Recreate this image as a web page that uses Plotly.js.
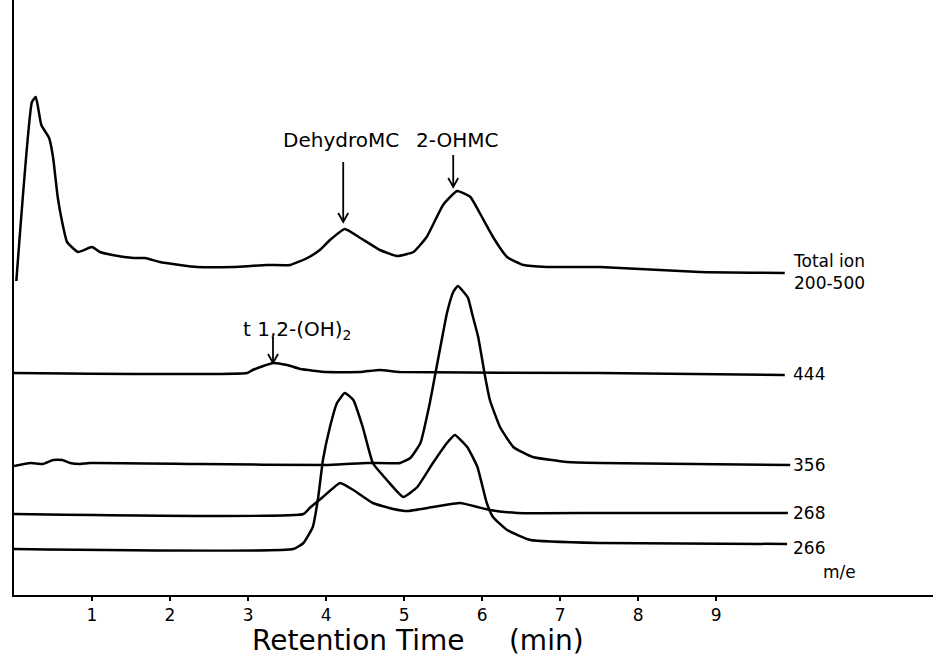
<!DOCTYPE html>
<html>
<head>
<meta charset="utf-8">
<script src="https://cdn.plot.ly/plotly-3.0.1.min.js"></script>
<style>html,body{margin:0;padding:0;background:#fff;}#chart{width:933px;height:660px;}</style>
</head>
<body>
<div id="chart"></div>
<script>
// Retention time (min) and detector response (arbitrary units, traces stacked as in the figure)
const totalIonTime = [0.03,0.23,0.28,0.35,0.45,0.50,0.56,0.62,0.68,0.82,1.00,1.10,1.26,1.53,1.68,1.87,2.35,2.81,3.24,3.54,3.76,3.92,4.05,4.24,4.44,4.69,4.91,5.12,5.29,5.50,5.68,5.85,5.97,6.14,6.32,6.53,6.83,7.51,8.79,9.88];
const totalIonSignal = [314,493,498,470,457,438,398,372,353,343,348,343,340,337,337,333,328,328,330,330,337,345,355,366,357,345,339,343,358,390,404,398,382,358,338,330,328,328,323,322];

const mz444Time = [0,2.99,3.06,3.32,3.50,3.67,4.01,4.44,4.69,4.95,7.51,9.88];
const mz444Signal = [222,222,225,232,230,226,223,223,225,223,222,220];

const mz356Time = [0,0.21,0.37,0.50,0.62,0.72,0.85,0.97,2.38,4.01,4.53,4.95,5.08,5.21,5.33,5.41,5.49,5.55,5.63,5.69,5.82,5.87,5.95,6.04,6.10,6.23,6.40,6.65,7.09,7.51,9.95];
const mz356Signal = [129,132,131,135,135,132,131,132,131,130,132,132,137,152,192,225,258,282,303,309,297,282,258,218,195,168,148,138,133,132,130];

const mz268Time = [0,3.71,3.79,3.96,4.18,4.35,4.60,4.86,5.04,5.37,5.72,5.94,6.10,6.45,7.51,9.92];
const mz268Signal = [81,81,87,98,112,105,92,86,84,88,92,88,85,82,82,82];

const mz266Time = [0,3.58,3.71,3.83,3.90,3.96,4.05,4.14,4.24,4.35,4.47,4.60,4.78,4.99,5.17,5.37,5.55,5.65,5.81,5.94,6.06,6.14,6.32,6.62,7.51,9.91];
const mz266Signal = [46,46,52,68,98,135,168,192,202,195,168,132,115,98,108,132,152,160,148,128,92,78,65,55,52,51];

const tickValues = [1,2,3,4,5,6,7,8,9];
const tickLabels = ["1","2","3","4","5","6","7","8","9"];

const traceLabels = ["Total ion<br>200-500","444","356","268","266"];
const peakLabels = ["DehydroMC","2-OHMC","t 1,2-(OH)<sub>2</sub>"];
const peakTimes = [4.22,5.63,3.32];
const peakTips = [373,408,232];
const peakTails = [433,440,258];

const FONT = "DejaVu Sans, Liberation Sans, sans-serif";
const line = {color:"#000", width:2.5, shape:"spline", smoothing:0.4};

const series = [
  [totalIonTime, totalIonSignal],
  [mz444Time, mz444Signal],
  [mz356Time, mz356Signal],
  [mz268Time, mz268Signal],
  [mz266Time, mz266Signal]
];
const data = series.map((s,i) => ({
  x: s[0], y: s[1], type:"scatter", mode:"lines", line: line,
  name: traceLabels[i].replace("<br>"," "), hoverinfo:"x+y"
}));

// arrows drawn as shapes (x: 78 px per minute, y: 1 px per unit)
const shapes = [];
const hw = 5/78, hh = 9;
peakTimes.forEach((t,i) => {
  shapes.push({type:"line", xref:"x", yref:"y", x0:t, x1:t, y0:peakTails[i], y1:peakTips[i]+1, line:{color:"#000", width:1.8}});
  shapes.push({type:"path", xref:"x", yref:"y",
    path:"M "+(t-hw)+","+(peakTips[i]+hh)+" L "+t+","+peakTips[i]+" L "+(t+hw)+","+(peakTips[i]+hh),
    line:{color:"#000", width:1.8}});
});

const annotations = [];
annotations.push({x:4.19, y:455, xref:"x", yref:"y", text:peakLabels[0], showarrow:false, font:{family:FONT, size:20, color:"#000"}});
annotations.push({x:5.68, y:455, xref:"x", yref:"y", text:peakLabels[1], showarrow:false, font:{family:FONT, size:20, color:"#000"}});
annotations.push({x:3.63, y:265, xref:"x", yref:"y", text:peakLabels[2], showarrow:false, font:{family:FONT, size:20, color:"#000"}});
// trace labels at right
const labelY = [323,221,130,82,47];
traceLabels.forEach((t,i) => {
  annotations.push({x:9.96, y:labelY[i], xref:"x", yref:"y", text:t, showarrow:false, xanchor:"left", yanchor:"middle", align:"left", font:{family:FONT, size:17, color:"#000"}});
});
annotations.push({x:10.58, y:23, xref:"x", yref:"y", text:"m/e", showarrow:false, xanchor:"center", font:{family:FONT, size:17, color:"#000"}});
// x-axis title
annotations.push({x:(418-14)/919, y:-0.076, xref:"paper", yref:"paper", text:"Retention Time\u00a0\u00a0\u00a0\u00a0\u00a0(min)", showarrow:false, xanchor:"center", yanchor:"middle", font:{family:FONT, size:28, color:"#000"}});

const layout = {
  width:933, height:660,
  margin:{l:14, r:0, t:0, b:65, pad:0},
  paper_bgcolor:"#fff", plot_bgcolor:"#fff",
  showlegend:false,
  font:{family:FONT, color:"#000"},
  xaxis:{
    range:[0, 11.78], showgrid:false, zeroline:false,
    showline:true, linecolor:"#000", linewidth:2,
    ticks:"outside", ticklen:4, tickwidth:1.5, tickcolor:"#000",
    tickvals:tickValues, ticktext:tickLabels,
    tickfont:{family:FONT, size:17, color:"#000"}
  },
  yaxis:{
    range:[0, 595], showgrid:false, zeroline:false,
    showline:true, linecolor:"#000", linewidth:2,
    showticklabels:false, ticks:""
  },
  shapes: shapes,
  annotations: annotations
};

Plotly.newPlot("chart", data, layout, {staticPlot:true, displayModeBar:false});
</script>
</body>
</html>
